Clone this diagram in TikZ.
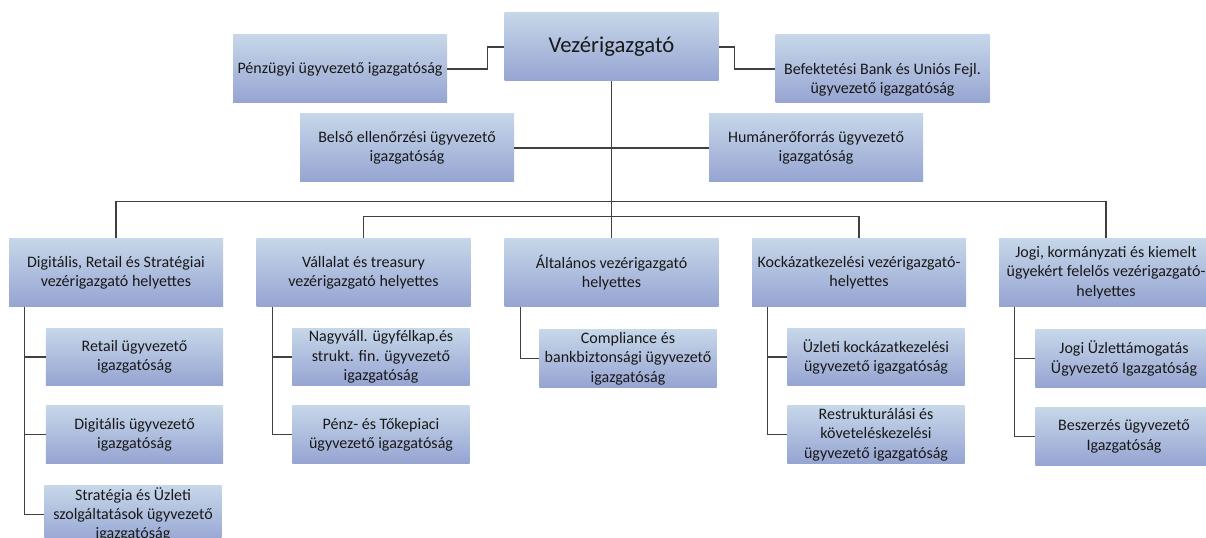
\documentclass[tikz,border=0pt]{standalone}
\usepackage{fontspec}
\setmainfont{Carlito}
\usepackage{xcolor}
\usetikzlibrary{arrows,positioning}
\definecolor{boxtop}{RGB}{198,215,233}
\definecolor{boxbot}{RGB}{150,164,210}
\definecolor{linegray}{RGB}{64,64,64}
\definecolor{textdark}{RGB}{25,25,25}
\tikzset{
  unit/.style={rectangle,shade,top color=boxtop,bottom color=boxbot,inner sep=0pt,
    align=center,text=textdark,font=\fontsize{12}{14.5}\selectfont},
  bigunit/.style={unit,minimum width=160.5pt,minimum height=51pt},
  subunit/.style={unit,minimum width=133pt,minimum height=43pt},
  link/.style={draw=linegray,line width=1pt}
}

\begin{document}
\begin{tikzpicture}[x=0.75pt,y=-0.75pt]
\clip (0,0) rectangle (1206,538);
\node[bigunit,font=\fontsize{17}{20}\selectfont] (a) at (611.5,47){Vezérigazgató};
\node[bigunit] (b) at (340,69){Pénzügyi ügyvezető igazgatóság};
\node[bigunit,text height=40pt,text depth=3pt] (c) at (882.5,69){Befektetési Bank és Uniós Fejl.\\ügyvezető igazgatóság};
\node[bigunit] (d) at (407,148){Belső ellenőrzési ügyvezető\\igazgatóság};
\node[bigunit] (e) at (816,148){Humánerőforrás ügyvezető\\igazgatóság};
    \draw[link] (a.west) -- ++(-17,0) |- (b.east);
      \draw[link] (a.east) -- ++(16,0) |- (c.west);
        \draw[link] (d.east) to (e.west);
\node[bigunit] (f) at (116,272.5){Digitális, Retail és Stratégiai\\vezérigazgató helyettes};
\node[bigunit] (g) at (363.5,272.5){Vállalat és treasury\\vezérigazgató helyettes};
\node[bigunit] (h) at (611.5,272.5){Általános vezérigazgató\\helyettes};
\node[bigunit] (i) at (859,272.5){Kockázatkezelési vezérigazgató-\\helyettes};
\node[bigunit] (j) at (1106,272.5){Jogi, kormányzati és kiemelt\\ügyekért felelős vezérigazgató-\\helyettes};
    \draw[link] (a.south) to (h.north);
      \draw[link] (f.north) -- ++(0,-37) -| (j.north);
        \draw[link] (g.north) -- ++(0,-22) -| (i.north);
\node[subunit] (fa) at (134.5,357){Retail ügyvezető\\igazgatóság};
\node[subunit] (fb) at (134.5,434.5){Digitális ügyvezető\\igazgatóság};
\node[subunit] (fc) at (133,514.5){Stratégia és Üzleti\\szolgáltatások ügyvezető\\igazgatóság};
\node[subunit] (ga) at (381,357){Nagyváll. ügyfélkap.és\\strukt. fin. ügyvezető\\igazgatóság};
\node[subunit] (gb) at (381,434.5){Pénz- és Tőkepiaci\\ügyvezető igazgatóság};
\node[subunit] (ha) at (628,358.5){Compliance és\\bankbiztonsági ügyvezető\\igazgatóság};
\node[subunit] (ia) at (876,357){Üzleti kockázatkezelési\\ügyvezető igazgatóság};
\node[subunit] (ib) at (876,434.5){Restrukturálási és\\követeléskezelési\\ügyvezető igazgatóság};
\node[subunit] (ja) at (1124,358.5){Jogi Üzlettámogatás\\Ügyvezető Igazgatóság};
\node[subunit] (jb) at (1124,436.5){Beszerzés ügyvezető\\Igazgatóság};
 \draw[link] ([xshift=12pt]f.south west) |- (fa.west);
      \draw[link] ([xshift=12pt]f.south west) |- (fb.west);
        \draw[link] ([xshift=12pt]f.south west) |- (fc.west);
          \draw[link] ([xshift=12pt]g.south west) |- (ga.west);
            \draw[link] ([xshift=12pt]g.south west) |- (gb.west);
             \draw[link] ([xshift=12pt]h.south west) |- (ha.west);
              \draw[link] ([xshift=12pt]i.south west) |- (ia.west);
               \draw[link] ([xshift=12pt]i.south west) |- (ib.west);
                \draw[link] ([xshift=12pt]j.south west) |- (ja.west);
                 \draw[link] ([xshift=12pt]j.south west) |- (jb.west);
\end{tikzpicture}
\end{document}
